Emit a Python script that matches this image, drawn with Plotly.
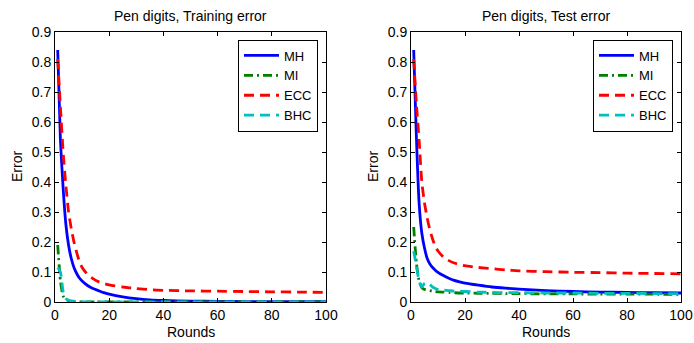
import plotly.graph_objects as go

rounds = [1, 2, 3, 4, 5, 6, 7, 8, 9, 10, 12, 14, 16, 18, 20, 25, 30, 35, 40, 50, 60, 70, 80, 90, 100]

train_mh = [0.84, 0.54, 0.38, 0.26, 0.19, 0.145, 0.115, 0.095, 0.08, 0.07, 0.055, 0.045, 0.038, 0.031, 0.026,
            0.017, 0.011, 0.007, 0.005, 0.003, 0.002, 0.0015, 0.001, 0.001, 0.001]
train_mi = [0.19, 0.07, 0.02, 0.008, 0.004, 0.002, 0.001, 0.001, 0, 0, 0, 0, 0, 0, 0,
            0, 0, 0, 0, 0, 0, 0, 0, 0, 0]
train_ecc = [0.81, 0.65, 0.50, 0.39, 0.30, 0.245, 0.20, 0.165, 0.135, 0.115, 0.092, 0.078, 0.068, 0.062, 0.057,
             0.05, 0.045, 0.041, 0.039, 0.037, 0.036, 0.035, 0.034, 0.033, 0.032]
train_bhc = [0.115, 0.10, 0.035, 0.012, 0.006, 0.004, 0.003, 0.002, 0.001, 0.001, 0, 0, 0, 0, 0,
             0, 0, 0, 0, 0, 0, 0, 0, 0, 0]

test_mh = [0.84, 0.55, 0.33, 0.23, 0.18, 0.145, 0.127, 0.115, 0.106, 0.099, 0.088, 0.079, 0.072, 0.067, 0.063,
           0.056, 0.05, 0.046, 0.043, 0.038, 0.035, 0.033, 0.032, 0.031, 0.03]
test_mi = [0.25, 0.13, 0.07, 0.048, 0.042, 0.04, 0.038, 0.036, 0.035, 0.034, 0.033, 0.032, 0.031, 0.03, 0.03,
           0.029, 0.029, 0.028, 0.028, 0.027, 0.027, 0.026, 0.026, 0.026, 0.025]
test_ecc = [0.81, 0.66, 0.54, 0.40, 0.33, 0.28, 0.24, 0.21, 0.185, 0.17, 0.15, 0.138, 0.13, 0.125, 0.121,
            0.115, 0.111, 0.107, 0.104, 0.101, 0.099, 0.098, 0.096, 0.095, 0.094]
test_bhc = [0.17, 0.12, 0.07, 0.05, 0.062, 0.065, 0.058, 0.05, 0.045, 0.042, 0.04, 0.038, 0.036, 0.036, 0.035,
            0.033, 0.032, 0.031, 0.031, 0.03, 0.03, 0.029, 0.029, 0.028, 0.028]

series_names = ["MH", "MI", "ECC", "BHC"]
x_ticks = [0, 20, 40, 60, 80, 100]
y_ticks = [0, 0.1, 0.2, 0.3, 0.4, 0.5, 0.6, 0.7, 0.8, 0.9]
y_tick_labels = ["0", "0.1", "0.2", "0.3", "0.4", "0.5", "0.6", "0.7", "0.8", "0.9"]
titles = ["Pen digits, Training error", "Pen digits, Test error"]

styles = {
    "MH": dict(color="#0000FF", width=2.8, dash="solid"),
    "MI": dict(color="#008000", width=2.8, dash="9px,4px,2px,4px"),
    "ECC": dict(color="#FF0000", width=2.8, dash="10px,6px"),
    "BHC": dict(color="#00BFBF", width=2.8, dash="10px,6px"),
}

FONT = "Liberation Sans, Arial, Helvetica, sans-serif"
FS = 14
LFS = 13
W, H = 694, 343
fig = go.Figure()

panels = [
    ("x", "y", "legend", [train_mh, train_mi, train_ecc, train_bhc]),
    ("x2", "y2", "legend2", [test_mh, test_mi, test_ecc, test_bhc]),
]
for xa, ya, lg, data in panels:
    for name, vals in zip(series_names, data):
        fig.add_trace(go.Scatter(
            x=rounds, y=vals, mode="lines", name=name,
            line=dict(shape="spline", smoothing=0.5, **styles[name]),
            xaxis=xa, yaxis=ya, legend=lg,
        ))

px0 = [(55, 326), (411, 681)]
ptop, pbot = 32, 302
ydom = [1 - pbot / H, 1 - ptop / H]

axis_common = dict(
    showgrid=False, zeroline=False, showline=True, linecolor="black", linewidth=1,
    mirror="ticks", ticks="inside", ticklen=4, tickcolor="black", automargin=False,
    tickfont=dict(family=FONT, size=FS, color="black"),
)
layout = dict(
    template="none",
    width=W, height=H, margin=dict(l=0, r=0, t=0, b=0, pad=0, autoexpand=False),
    paper_bgcolor="white", plot_bgcolor="white",
    font=dict(family=FONT, size=FS, color="black"),
    showlegend=True,
)
for i, (l, r) in enumerate(px0):
    sfx = "" if i == 0 else str(i + 1)
    layout["xaxis" + sfx] = dict(axis_common, domain=[l / W, r / W], range=[0, 100],
                                 tickvals=x_ticks, anchor="y" + sfx)
    layout["yaxis" + sfx] = dict(axis_common, domain=ydom, range=[0, 0.9],
                                 tickvals=y_ticks, ticktext=y_tick_labels, anchor="x" + sfx)
    layout["legend" + ("" if i == 0 else "2")] = dict(
        x=(r - 8) / W, xanchor="right", y=1 - 39.5 / H, yanchor="top",
        xref="paper", yref="paper",
        bordercolor="black", borderwidth=1, bgcolor="white",
        font=dict(family=FONT, size=LFS, color="black"),
        tracegroupgap=0, itemwidth=35,
    )
fig.update_layout(**layout)

anns = []
for i, (l, r) in enumerate(px0):
    cx = (l + r) / 2 / W
    common = dict(xref="paper", yref="paper", showarrow=False, xanchor="center", yanchor="middle",
                  font=dict(family=FONT, size=FS, color="black"))
    anns.append(dict(common, text=titles[i], x=cx, y=1 - 16 / H))
    anns.append(dict(common, text="Rounds", x=cx, y=1 - 332 / H))
    anns.append(dict(common, text="Error", x=(l - 38) / W, y=1 - 167 / H, textangle=-90))
fig.update_layout(annotations=anns)

fig.write_html("out.html", config={"displayModeBar": False},
               post_script="document.body.style.margin='0';document.body.style.overflow='hidden';")
